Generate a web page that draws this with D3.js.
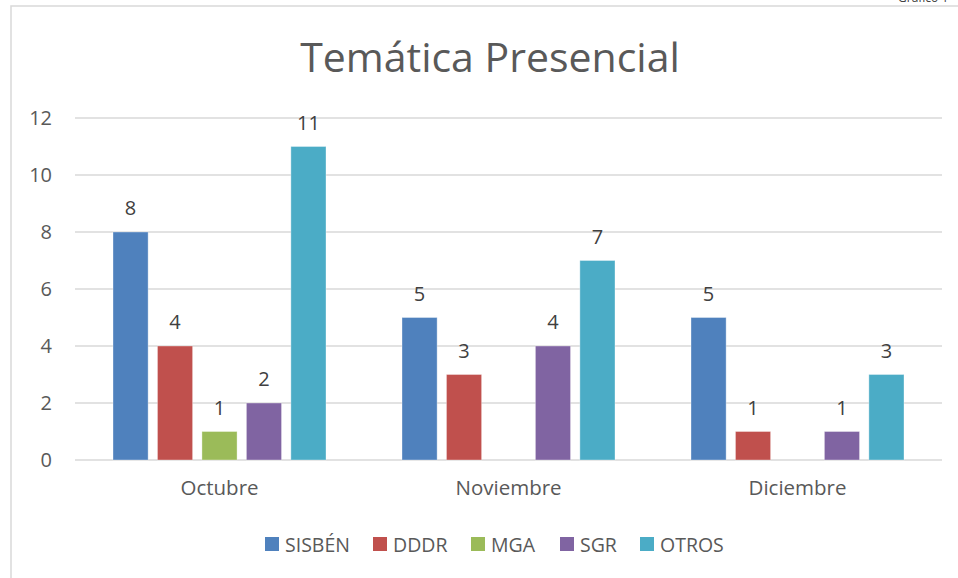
<html lang="es">
<head>
  <meta charset="utf-8">
  <title>Temática Presencial</title>
  <script src="https://d3js.org/d3.v7.min.js"></script>
  <style>
    body { margin: 0; background: #fff; }
    text { font-family: "Open Sans", sans-serif; }
  </style>
</head>
<body>
  <script>
    const months = ["Octubre", "Noviembre", "Diciembre"];
    const series = ["SISBÉN", "DDDR", "MGA", "SGR", "OTROS"];
    const colors = ["#4F81BD", "#C0504D", "#9BBB59", "#8064A2", "#4BACC6"];
    const values = [
      [8, 4, 1, 2, 11],  // Octubre
      [5, 3, 0, 4, 7],   // Noviembre
      [5, 1, 0, 1, 3]    // Diciembre
    ];
    const yTicks = [0, 2, 4, 6, 8, 10, 12];

    const width = 958, height = 578;
    const svg = d3.select("body").append("svg").attr("width", width).attr("height", height);

    // chart frame (only left and top edges are visible in the crop)
    svg.append("path")
      .attr("d", "M11,578V6H958")
      .attr("fill", "none").attr("stroke", "#D9D9D9").attr("stroke-width", 1.5);
    svg.append("text").attr("x", 898).attr("y", 2).attr("font-size", 12)
      .attr("fill", "#404040").text("Gráfico 1");

    const plotL = 75, plotR = 942, plotT = 118, plotB = 460;

    const x0 = d3.scaleBand().domain(months).range([plotL, plotR]);
    const x1 = d3.scaleBand().domain(series).range([38, x0.bandwidth() - 38]).paddingInner(0.21);
    const y = d3.scaleLinear().domain([0, 12]).range([plotB, plotT]);

    // gridlines
    svg.append("g").selectAll("line").data(yTicks).join("line")
      .attr("x1", plotL).attr("x2", plotR)
      .attr("y1", d => y(d)).attr("y2", d => y(d))
      .attr("stroke", "#D9D9D9").attr("stroke-width", 1.5);

    // y axis labels
    const yAxis = d3.axisLeft(y).tickValues(yTicks).tickSize(0).tickPadding(0);
    const gy = svg.append("g").attr("transform", "translate(52,0)").call(yAxis);
    gy.select(".domain").remove();
    gy.selectAll("text").attr("font-size", 20).attr("fill", "#595959")
      .attr("font-family", "Open Sans, sans-serif");

    // bars
    const groups = svg.append("g").selectAll("g").data(values).join("g")
      .attr("transform", (d, i) => `translate(${x0(months[i])},0)`);

    groups.selectAll("rect")
      .data(d => d.map((v, j) => ({ v, s: series[j], c: colors[j] })))
      .join("rect")
      .attr("x", d => x1(d.s))
      .attr("width", x1.bandwidth())
      .attr("y", d => y(d.v))
      .attr("height", d => y(0) - y(d.v))
      .attr("fill", d => d.c)
      .attr("stroke", "#fff").attr("stroke-opacity", 0.35).attr("stroke-width", 1);

    groups.selectAll("text")
      .data(d => d.map((v, j) => ({ v, s: series[j] })).filter(d => d.v > 0))
      .join("text")
      .attr("x", d => x1(d.s) + x1.bandwidth() / 2)
      .attr("y", d => y(d.v) - 17)
      .attr("text-anchor", "middle")
      .attr("font-size", 20).attr("fill", "#404040")
      .text(d => d.v);

    // x axis labels
    const xAxis = d3.axisBottom(x0).tickSize(0).tickPadding(0);
    const gx = svg.append("g").attr("transform", `translate(0,${plotB + 20})`).call(xAxis);
    gx.select(".domain").remove();
    gx.selectAll("text").attr("font-size", 20.5).attr("fill", "#595959")
      .attr("font-family", "Open Sans, sans-serif");

    // title
    svg.append("text").attr("x", 490).attr("y", 72).attr("text-anchor", "middle")
      .attr("font-size", 41).attr("fill", "#595959").text("Temática Presencial");

    // legend
    const legendX = [265, 373, 471, 560, 640];
    const lg = svg.append("g").selectAll("g").data(series).join("g")
      .attr("transform", (d, i) => `translate(${legendX[i]},537)`);
    lg.append("rect").attr("width", 14).attr("height", 14).attr("fill", (d, i) => colors[i]);
    lg.append("text").attr("x", 20).attr("y", 15).attr("font-size", 19.5)
      .attr("fill", "#595959").text(d => d);
  </script>
</body>
</html>
